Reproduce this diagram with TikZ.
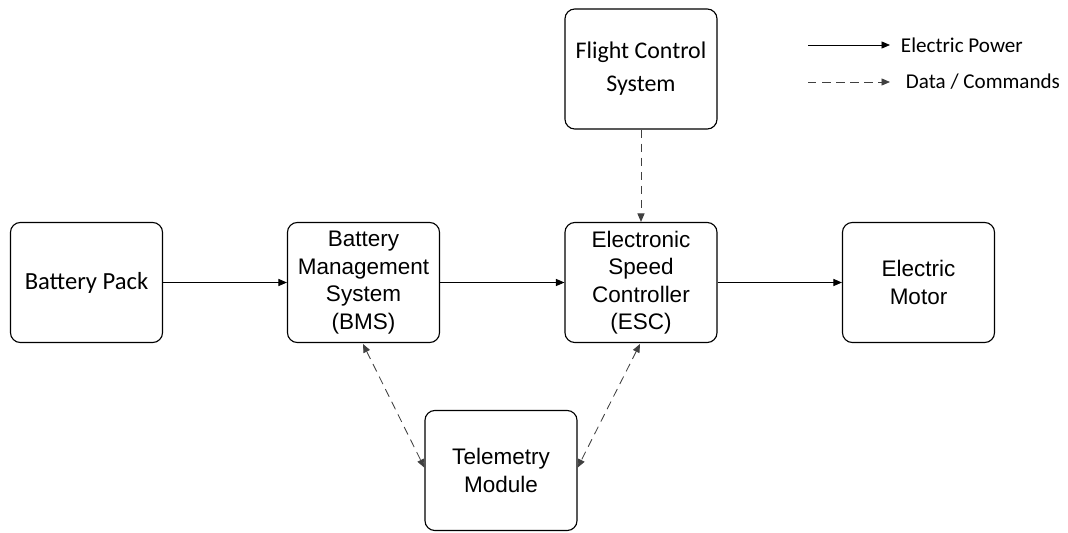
\documentclass[tikz,border=0pt]{standalone}
\usepackage{fontspec}
\setmainfont{Liberation Sans}
\newfontfamily\calfont{Carlito}
\usetikzlibrary{arrows.meta}

\begin{document}
\begin{tikzpicture}[x=0.025cm,y=-0.025cm,
  block/.style={draw,thick,rounded corners=7pt,minimum width=3.8cm,minimum height=3cm,
    align=center,font=\fontsize{16}{19.5}\selectfont,inner sep=0pt},
  power/.style={-{Triangle[length=6pt,width=5pt]},semithick},
  datalink/.style={-{Triangle[length=6pt,width=5pt]},semithick,dash pattern=on 6pt off 4pt,black!75},
  bothway/.style={datalink,{Triangle[length=6pt,width=5pt]}-{Triangle[length=6pt,width=5pt]}}]
\useasboundingbox (0,0) rectangle (1068,533);
% main chain
\node[block,font=\calfont\fontsize{17.5}{20}\selectfont] (pack) at (86.5,282.5) {Battery Pack};
\node[block] (bms) at (363.5,282.5) {Battery\\Management\\System\\(BMS)};
\node[block] (esc) at (641,282.5) {Electronic\\Speed\\Controller\\(ESC)};
\node[block] (motor) at (918.5,282.5) {Electric\\Motor};
% control and telemetry
\node[block,font=\calfont\fontsize{17}{23.5}\selectfont] (fcs) at (641,69) {Flight Control\\System};
\node[block] (tele) at (501,470.5) {Telemetry\\Module};
% power flow
\draw[power] (pack) -- (bms);
\draw[power] (bms) -- (esc);
\draw[power] (esc) -- (motor);
% data flow
\draw[datalink] (fcs) -- (esc);
\draw[bothway] (363,344) -- ([yshift=2pt]tele.west);
\draw[bothway] (640,344) -- ([yshift=2pt]tele.east);
% legend
\coordinate (lp1) at (808,45);
\coordinate (lp2) at (890,45);
\coordinate (ld1) at (808,82);
\coordinate (ld2) at (890,82);
\draw[power] (lp1) -- (lp2);
\draw[datalink] (ld1) -- (ld2);
\node[anchor=west,font=\calfont\fontsize{15}{17}\selectfont] (lpt) at (896,45) {Electric Power};
\node[anchor=west,font=\calfont\fontsize{15}{17}\selectfont] (ldt) at (901,82) {Data / Commands};
\end{tikzpicture}
\end{document}
